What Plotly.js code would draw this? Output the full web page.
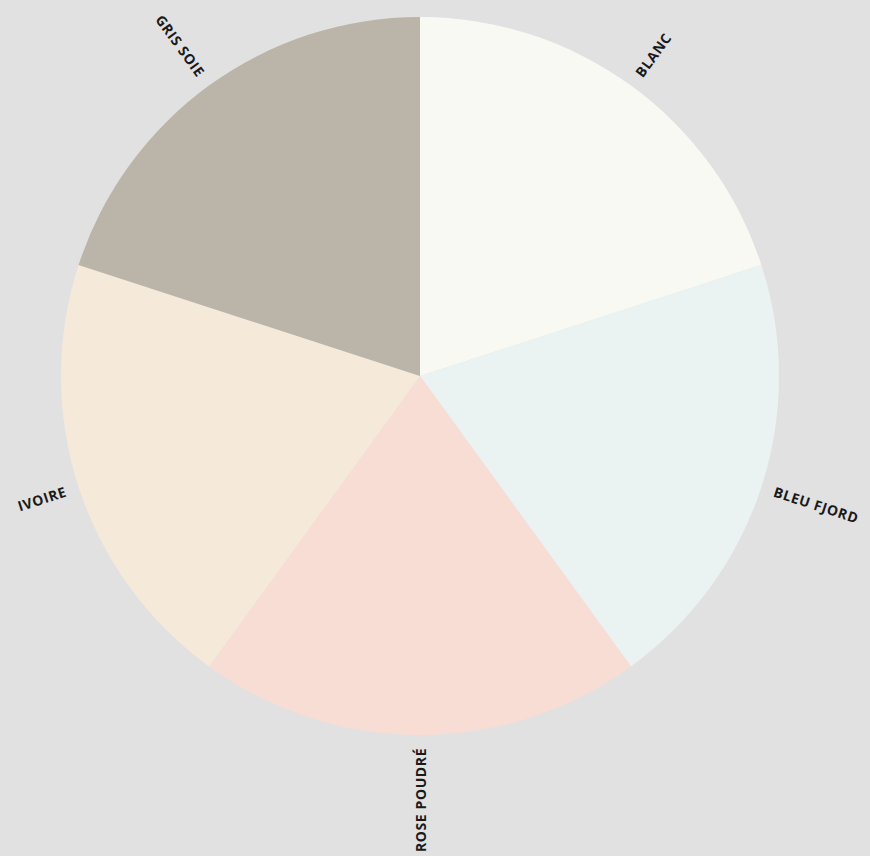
<!DOCTYPE html>
<html>
<head>
<meta charset="utf-8">
<script src="https://cdn.plot.ly/plotly-3.0.1.min.js"></script>
<style>
html,body{margin:0;padding:0;background:#e1e1e1;}
.annotation-text{letter-spacing:0.6px;}
</style>
</head>
<body>
<div id="chart" style="width:870px;height:856px;"></div>
<script>
const categories = ["BLANC", "BLEU FJORD", "ROSE POUDRÉ", "IVOIRE", "GRIS SOIE"];
const values = [20, 20, 20, 20, 20];
const colors = ["#f9f9f4", "#eaf3f2", "#f8ddd5", "#f5ead9", "#bbb4a9"];

const W = 870, H = 856;
const margin = {l: 61, r: 91, t: 17, b: 121};
const plotW = W - margin.l - margin.r, plotH = H - margin.t - margin.b;
const cx = margin.l + plotW / 2, cy = margin.t + plotH / 2;
const R = Math.min(plotW, plotH) / 2;
const labelGap = 13;
const fontSize = 14;
const spacing = 0.6;
const fontSpec = "bold " + fontSize + "px 'Open Sans'";

const canvas = document.createElement('canvas');
const ctx = canvas.getContext('2d');
ctx.font = fontSpec;

const total = values.reduce((a, b) => a + b, 0);
let cum = 0;
const annotations = categories.map((c, i) => {
  const theta = 360 * (cum + values[i] / 2) / total;
  cum += values[i];
  const rad = theta * Math.PI / 180;
  const w = ctx.measureText(c).width + spacing * c.length;
  const r = R + labelGap + w / 2;
  const px = cx + r * Math.sin(rad), py = cy - r * Math.cos(rad);
  let ang = theta - 90;
  if (ang >= 90) ang -= 180;
  return {
    text: c, xref: 'paper', yref: 'paper',
    x: (px - margin.l) / plotW, y: (H - margin.b - py) / plotH,
    xanchor: 'center', yanchor: 'middle', showarrow: false,
    textangle: ang,
    font: {family: 'Open Sans', size: fontSize, color: '#1a1a1a', weight: 700}
  };
});

Plotly.newPlot('chart', [{
  type: 'pie', labels: categories, values: values, sort: false,
  direction: 'clockwise', rotation: 0,
  marker: {colors: colors, line: {width: 0}},
  textinfo: 'none', hoverinfo: 'label+value', showlegend: false
}], {
  width: W, height: H, margin: margin,
  paper_bgcolor: '#e1e1e1', plot_bgcolor: '#e1e1e1',
  showlegend: false, annotations: annotations
}, {displayModeBar: false});
</script>
</body>
</html>
